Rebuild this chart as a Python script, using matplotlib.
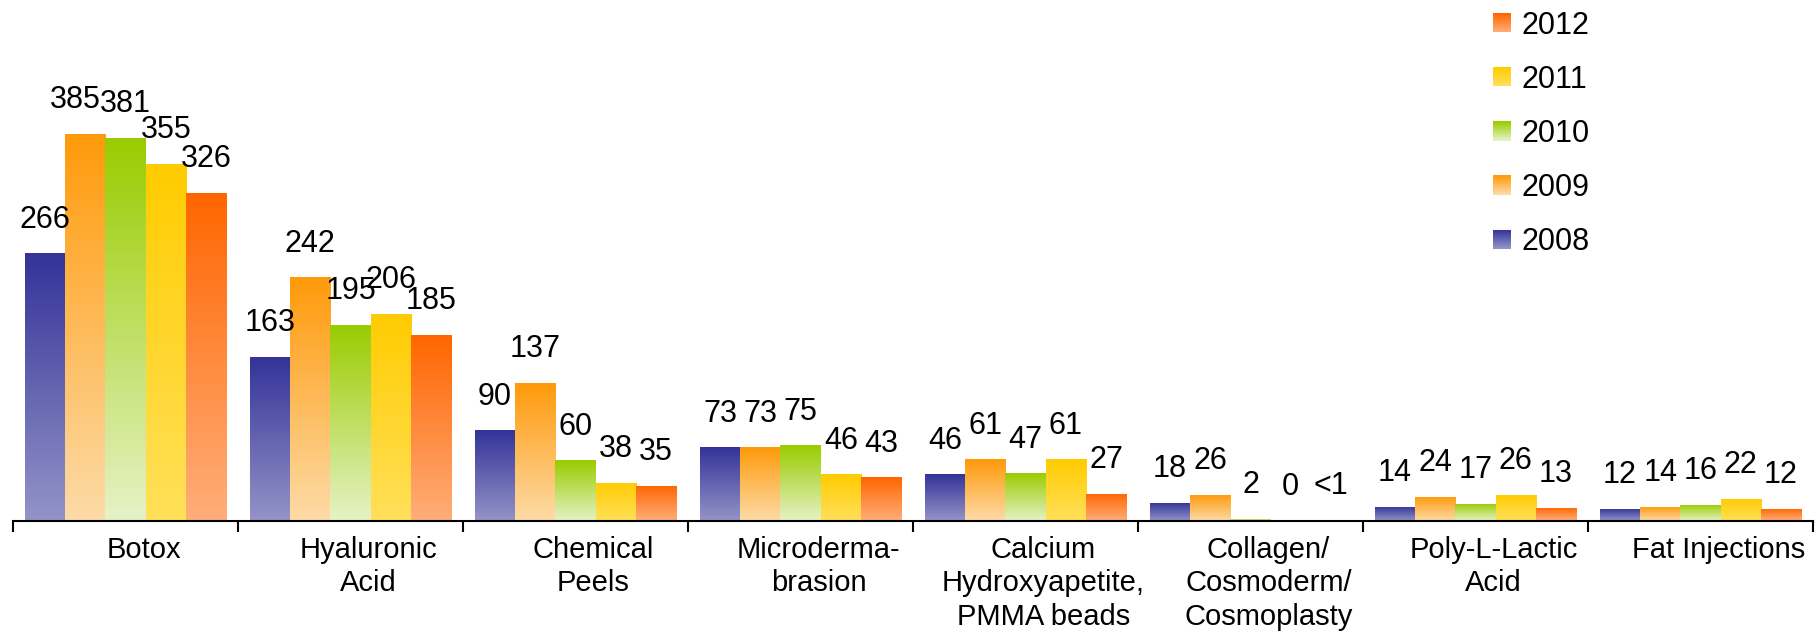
import numpy as np
import matplotlib
matplotlib.use('Agg')
import matplotlib.pyplot as plt
from matplotlib.patches import Rectangle
from matplotlib.legend_handler import HandlerBase
from matplotlib.colors import to_rgb
import matplotlib.transforms as mtransforms

plt.rcParams['font.family'] = ['Liberation Sans', 'DejaVu Sans']

categories = ["Botox", "Hyaluronic\nAcid", "Chemical\nPeels", "Microderma-\nbrasion",
              "Calcium\nHydroxyapetite,\nPMMA beads", "Collagen/\nCosmoderm/\nCosmoplasty",
              "Poly-L-Lactic\nAcid", "Fat Injections"]
years = ["2008", "2009", "2010", "2011", "2012"]
v2008 = [266, 163, 90, 73, 46, 18, 14, 12]
v2009 = [385, 242, 137, 73, 61, 26, 24, 14]
v2010 = [381, 195, 60, 75, 47, 2, 17, 16]
v2011 = [355, 206, 38, 46, 61, 0, 26, 22]
v2012 = [326, 185, 35, 43, 27, 0.8, 13, 12]
lab2008 = ["266", "163", "90", "73", "46", "18", "14", "12"]
lab2009 = ["385", "242", "137", "73", "61", "26", "24", "14"]
lab2010 = ["381", "195", "60", "75", "47", "2", "17", "16"]
lab2011 = ["355", "206", "38", "46", "61", "0", "26", "22"]
lab2012 = ["326", "185", "35", "43", "27", "<1", "13", "12"]

series = [v2008, v2009, v2010, v2011, v2012]
series_labels = [lab2008, lab2009, lab2010, lab2011, lab2012]
top_colors = ["#333399", "#FF9A0A", "#99CC00", "#FFCC00", "#FF6600"]
bottom_colors = ["#9494C8", "#FDDBA8", "#E6F2C6", "#FFE05A", "#FFAE7A"]

# small horizontal nudges (points) for crowded labels: (series index, category index)
label_nudge = {(1, 0): -7}

W, H, DPI = 1818, 634, 100
fig = plt.figure(figsize=(W / DPI, H / DPI), dpi=DPI)
ax = fig.add_axes([13 / W, 113.3 / H, 1800 / W, 520.7 / H])

x = np.arange(len(categories))
w = 0.179


def grad_img(top, bot, n=256):
    t = np.array(to_rgb(top))
    b = np.array(to_rgb(bot))
    g = np.linspace(0, 1, n)[:, None]
    return (b * (1 - g) + t * g)[:, None, :]


for i, (vals, labs) in enumerate(zip(series, series_labels)):
    xs = x + (i - 2) * w
    bars = ax.bar(xs, vals, width=w, color='none', edgecolor='none', zorder=2)
    img = grad_img(top_colors[i], bottom_colors[i])
    for j, (bar, v, lab) in enumerate(zip(bars, vals, labs)):
        if v > 0:
            x0 = bar.get_x()
            im = ax.imshow(img, extent=[x0, x0 + bar.get_width(), 0, v], origin='lower',
                           aspect='auto', interpolation='bilinear', zorder=2)
            im.set_clip_path(bar)
        ax.annotate(lab, (bar.get_x() + bar.get_width() / 2, v),
                    xytext=(label_nudge.get((i, j), 0), 18.5),
                    textcoords='offset points', ha='center', va='baseline',
                    fontsize=22, color='black', zorder=3)

ax.set_xlim(-0.5, len(categories) - 0.5)
ax.set_ylim(0, 518)

for s in ['top', 'right', 'left']:
    ax.spines[s].set_visible(False)
ax.spines['bottom'].set_linewidth(1.5)
ax.set_yticks([])

ax.set_xticks(x)
ax.set_xticklabels(categories, fontsize=21, linespacing=1.25)
ax.tick_params(axis='x', which='major', length=0, pad=11)
ax.set_xticks(np.arange(len(categories) + 1) - 0.5, minor=True)
ax.tick_params(axis='x', which='minor', length=8, width=1.5, direction='out')
offset = mtransforms.ScaledTranslation(18 / DPI, 0, fig.dpi_scale_trans)
for lbl in ax.get_xticklabels():
    lbl.set_transform(lbl.get_transform() + offset)


class GradHandler(HandlerBase):
    def __init__(self, top, bot, n=24):
        super().__init__()
        self.top = np.array(to_rgb(top))
        self.bot = np.array(to_rgb(bot))
        self.n = n

    def create_artists(self, legend, orig_handle, xdescent, ydescent, width, height,
                       fontsize, trans):
        arts = []
        hh = height / self.n
        for k in range(self.n):
            g = k / (self.n - 1)
            c = self.bot * (1 - g) + self.top * g
            r = Rectangle((-xdescent, -ydescent + k * hh), width, hh * 1.05,
                          facecolor=c, edgecolor='none', transform=trans)
            arts.append(r)
        return arts


proxies = [Rectangle((0, 0), 1, 1) for _ in years]
hmap = {p: GradHandler(top_colors[i], bottom_colors[i]) for i, p in enumerate(proxies)}
leg = fig.legend(proxies[::-1], years[::-1], handler_map=hmap, loc='upper left',
                 bbox_to_anchor=(1493 / W, 1 - 10.5 / H), frameon=False, fontsize=22,
                 borderpad=0, borderaxespad=0, handlelength=0.59, handleheight=0.59,
                 handletextpad=0.33, labelspacing=0.79)

fig.savefig('out.png', dpi=DPI)
